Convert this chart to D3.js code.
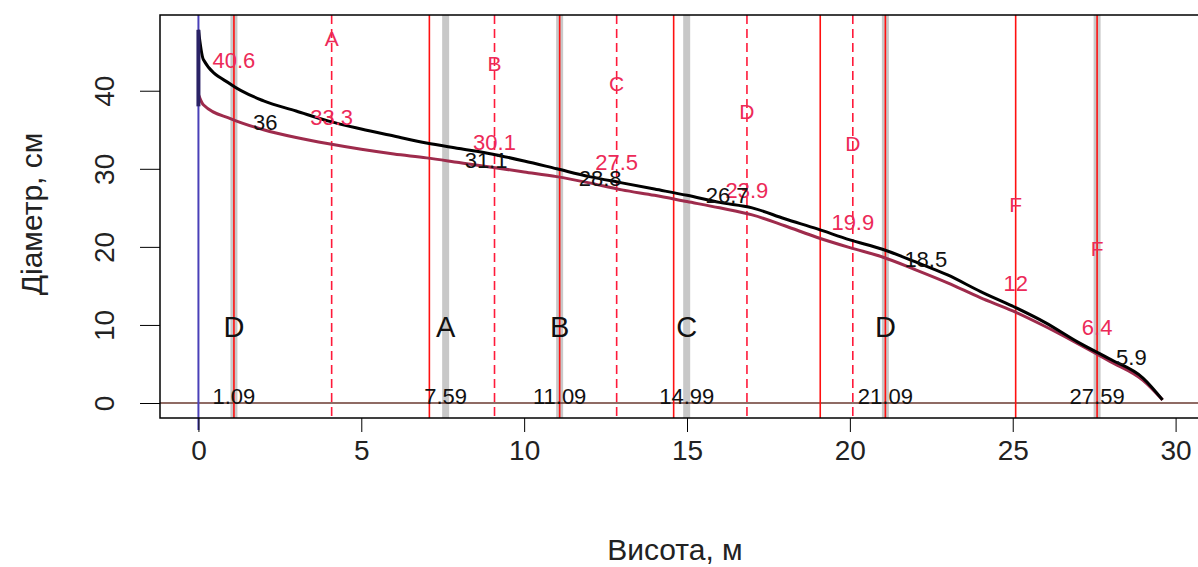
<!DOCTYPE html>
<html><head><meta charset="utf-8">
<script src="https://cdn.jsdelivr.net/npm/d3@7/dist/d3.min.js"></script>
<style>
html,body{margin:0;padding:0;background:#fff;}
text{font-family:"Liberation Sans",Arial,sans-serif;}
</style></head>
<body><svg id="c" width="1198" height="567"></svg>
<script>
// stem profile: heights (m) and diameters (cm)
const heights   = [0, 0.15, 1, 2, 3, 4, 5, 6, 7, 8, 9, 10, 11, 12, 13, 14, 15, 16, 17, 18, 19, 20, 21, 22, 23, 24, 25, 26, 27, 28, 29, 29.6];
const diamBark  = [47.8, 44.0, 40.8, 38.7, 37.4, 36.1, 35.1, 34.2, 33.3, 32.6, 31.9, 31.0, 30.0, 29.0, 28.2, 27.4, 26.6, 25.7, 25.0, 23.6, 22.3, 20.9, 19.7, 18.1, 16.4, 14.3, 12.4, 10.3, 7.8, 5.6, 3.2, 0.4];
const diamUnder = [39.5, 38.2, 36.4, 35.0, 34.0, 33.2, 32.5, 31.9, 31.4, 30.8, 30.2, 29.6, 29.0, 28.2, 27.3, 26.6, 25.8, 25.0, 24.1, 22.7, 21.2, 19.9, 18.7, 17.1, 15.4, 13.5, 11.8, 9.8, 7.6, 5.3, 2.9, 0.4];

// log boundaries (solid red) and mid-points (dashed)
const cuts      = [1.09, 7.09, 11.09, 14.59, 19.09, 21.09, 25.09, 27.59];
const midPts    = [4.09, 9.09, 12.84, 16.84, 20.09];
const midLabels = [["A",4.09,33.3],["B",9.09,30.1],["C",12.84,27.5],["D",16.84,23.9],["D",20.09,19.9],["F",25.09,12],["F",27.59,6.4]];
const cutValues = [[1.09,40.6],[4.09,33.3],[9.09,30.1],[12.84,27.5],[16.84,23.9],[20.09,19.9],[25.09,12],[27.59,6.4]];
// assortment marks (grey)
const grades    = [1.09, 7.59, 11.09, 14.99, 21.09, 27.59];
const gradeText = ["1.09","7.59","11.09","14.99","21.09","27.59"];
const gradeName = ["D","A","B","C","D",""];
const gradeDiam = [36, 31.1, 28.8, 26.7, 18.5, 5.9];

const xTicks = [0,5,10,15,20,25,30];
const yTicks = [0,10,20,30,40];

const svg = d3.select("#c");
const x = d3.scaleLinear().domain([-1.18, 30.78]).range([160, 1201]);
const y = d3.scaleLinear().domain([-1.92, 49.7]).range([418, 15]);
const yTop = y.range()[1], yBot = y.range()[0];

// grey assortment bars
svg.selectAll(".gr").data(grades).enter().append("line")
  .attr("x1", d=>x(d)).attr("x2", d=>x(d)).attr("y1", yTop).attr("y2", yBot)
  .attr("stroke", "#c8c8c8").attr("stroke-width", 7);

// zero line
svg.append("line").attr("x1", x.range()[0]).attr("x2", x.range()[1])
  .attr("y1", y(0)).attr("y2", y(0)).attr("stroke", "#6a3a30").attr("stroke-width", 1.5);

// blue vertical at x=0
svg.append("line").attr("x1", x(0)).attr("x2", x(0)).attr("y1", yTop).attr("y2", yBot+12)
  .attr("stroke", "#4a40b8").attr("stroke-width", 2);

// solid red cut lines
svg.selectAll(".cut").data(cuts).enter().append("line")
  .attr("x1", d=>x(d)).attr("x2", d=>x(d)).attr("y1", yTop).attr("y2", yBot)
  .attr("stroke", "#ff1010").attr("stroke-width", 1.6);

// dashed mid lines
svg.selectAll(".mid").data(midPts).enter().append("line")
  .attr("x1", d=>x(d)).attr("x2", d=>x(d)).attr("y1", yTop).attr("y2", yBot)
  .attr("stroke", "#ff1a3a").attr("stroke-width", 1.6).attr("stroke-dasharray", "9,5");

// curves
const line = d3.line().x(d=>x(d[0])).y(d=>y(d[1])).curve(d3.curveMonotoneX);
svg.append("path").datum(heights.map((h,i)=>[h, diamUnder[i]]))
  .attr("d", line).attr("fill","none").attr("stroke","#9e2b4c").attr("stroke-width",3);
svg.append("path").datum(heights.map((h,i)=>[h, diamBark[i]]))
  .attr("d", line).attr("fill","none").attr("stroke","#000").attr("stroke-width",3);
// stump segment on x=0
svg.append("line").attr("x1", x(0)).attr("x2", x(0)).attr("y1", y(diamBark[0])).attr("y2", y(diamUnder[0]-1.5))
  .attr("stroke", "#2a2266").attr("stroke-width", 4);

const red = "#ec2a58";
// red letters and values at dashed lines
svg.selectAll(".ml").data(midLabels).enter().append("text")
  .attr("x", d=>x(d[1])).attr("y", d=>y(d[2])-97).attr("text-anchor","middle")
  .attr("font-size", 21).attr("fill", red).text(d=>d[0]);
svg.selectAll(".cv").data(cutValues).enter().append("text")
  .attr("x", d=>x(d[0])).attr("y", d=>y(d[1])-18).attr("text-anchor","middle")
  .attr("font-size", 22).attr("fill", red).text(d=>d[1]);

// grade labels
svg.selectAll(".gd").data(grades).enter().append("text")
  .attr("x", d=>x(d)+19).attr("y", (d,i)=>y(gradeDiam[i])+8).attr("font-size", 22).attr("fill","#111")
  .text((d,i)=>gradeDiam[i]);
svg.selectAll(".gt").data(grades).enter().append("text")
  .attr("x", d=>x(d)).attr("y", y(0)+1).attr("text-anchor","middle").attr("font-size", 22).attr("fill","#111")
  .text((d,i)=>gradeText[i]);
svg.selectAll(".gn").data(grades).enter().append("text")
  .attr("x", d=>x(d)).attr("y", y(10)+12).attr("text-anchor","middle").attr("font-size", 29).attr("fill","#111")
  .text((d,i)=>gradeName[i]);

// frame
svg.append("rect").attr("x", x.range()[0]).attr("y", yTop).attr("width", x.range()[1]-x.range()[0]).attr("height", yBot-yTop)
  .attr("fill","none").attr("stroke","#000").attr("stroke-width",1.5);

// axes
const xa = svg.append("g").attr("transform", `translate(0,${yBot})`)
  .call(d3.axisBottom(x).tickValues(xTicks).tickSize(14).tickPadding(8).tickFormat(d3.format("d")));
xa.select(".domain").remove();
xa.selectAll("text").attr("font-size", 28).attr("fill","#222").attr("font-family","Liberation Sans, Arial, sans-serif");
xa.selectAll("line").attr("stroke","#000");

const ya = svg.append("g").attr("transform", `translate(${x.range()[0]},0)`)
  .call(d3.axisLeft(y).tickValues(yTicks).tickSize(20).tickPadding(0).tickFormat(d3.format("d")));
ya.select(".domain").remove();
ya.selectAll("line").attr("stroke","#000");
ya.selectAll("text").attr("font-size", 28).attr("fill","#222").attr("font-family","Liberation Sans, Arial, sans-serif")
  .attr("text-anchor","middle").attr("x", null).attr("dy", null)
  .attr("transform", "translate(-56,0) rotate(-90) translate(0,10)");

svg.append("text").attr("x", 675).attr("y", 560).attr("text-anchor","middle")
  .attr("font-size", 30).attr("fill","#222").text("Висота, м");
svg.append("text").attr("transform", `translate(42,214) rotate(-90)`).attr("text-anchor","middle")
  .attr("font-size", 30).attr("fill","#222").text("Діаметр, см");
</script></body></html>
